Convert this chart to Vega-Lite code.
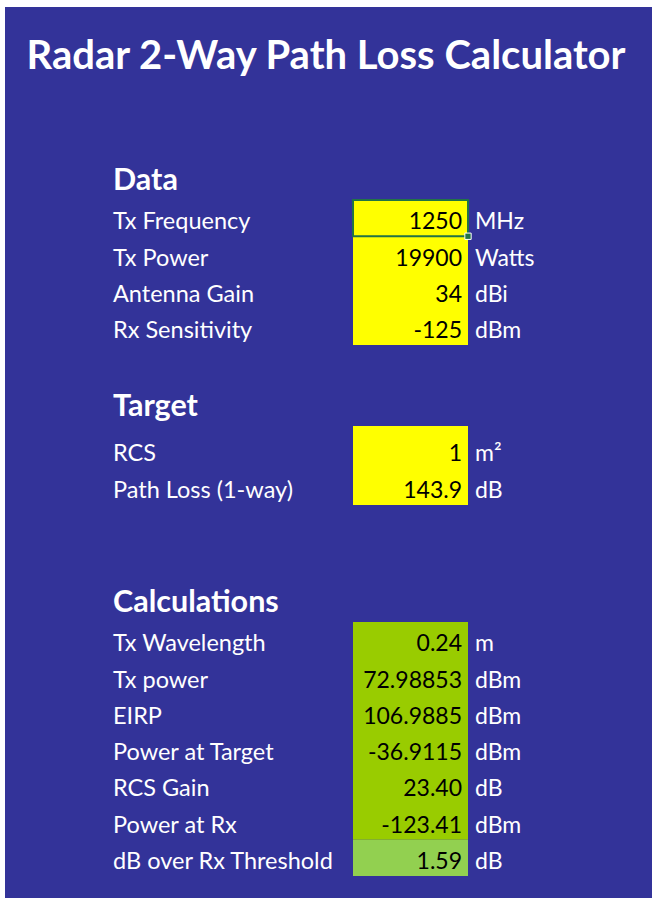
{
  "$schema": "https://vega.github.io/schema/vega-lite/v6.json",
  "width": 652,
  "height": 898,
  "autosize": "none",
  "padding": 0,
  "background": "white",
  "config": {"view": {"stroke": null}, "font": "Lato"},
  "title": {
    "text": "Radar 2-Way Path Loss Calculator",
    "anchor": "middle",
    "frame": "group",
    "orient": "top",
    "offset": -109,
    "baseline": "alphabetic",
    "font": "Lato",
    "fontSize": 40,
    "fontWeight": "bold",
    "color": "white"
  },
  "datasets": {
    "sheet": [{"top": 0, "bottom": 22}],
    "fills": [
      {"top": 3, "bottom": 7, "kind": "input"},
      {"top": 9, "bottom": 11, "kind": "input"},
      {"top": 14, "bottom": 20, "kind": "calc"},
      {"top": 20, "bottom": 21, "kind": "result"}
    ],
    "selected": [{"top": 3, "bottom": 4}],
    "headers": [
      {"row": 3, "text": "Data"},
      {"row": 9, "text": "Target"},
      {"row": 14, "text": "Calculations"}
    ],
    "items": [
      {"row": 4, "label": "Tx Frequency", "value": "1250", "unit": "MHz"},
      {"row": 5, "label": "Tx Power", "value": "19900", "unit": "Watts"},
      {"row": 6, "label": "Antenna Gain", "value": "34", "unit": "dBi"},
      {"row": 7, "label": "Rx Sensitivity", "value": "-125", "unit": "dBm"},
      {"row": 10, "label": "RCS", "value": "1", "unit": "m²"},
      {"row": 11, "label": "Path Loss (1-way)", "value": "143.9", "unit": "dB"},
      {"row": 15, "label": "Tx Wavelength", "value": "0.24", "unit": "m"},
      {"row": 16, "label": "Tx power", "value": "72.98853", "unit": "dBm"},
      {"row": 17, "label": "EIRP", "value": "106.9885", "unit": "dBm"},
      {"row": 18, "label": "Power at Target", "value": "-36.9115", "unit": "dBm"},
      {"row": 19, "label": "RCS Gain", "value": "23.40", "unit": "dB"},
      {"row": 20, "label": "Power at Rx", "value": "-123.41", "unit": "dBm"},
      {"row": 21, "label": "dB over Rx Threshold", "value": "1.59", "unit": "dB"}
    ]
  },
  "layer": [
    {
      "data": {"name": "sheet"},
      "mark": {"type": "rect", "color": "#333399"},
      "encoding": {
        "x": {"datum": 0, "type": "quantitative", "axis": null,
              "scale": {"domain": [0, 1, 2, 3, 4, 5], "range": [5, 106, 353, 468, 560, 652], "nice": false, "zero": false}},
        "x2": {"datum": 5},
        "y": {"field": "top", "type": "quantitative", "axis": null,
              "scale": {"domain": [0, 1, 2, 3, 4, 5, 6, 7, 8, 9, 10, 11, 12, 13, 14, 15, 16, 17, 18, 19, 20, 21, 22],
                        "range": [7, 100, 156, 200, 236.25, 272.5, 308.75, 345, 381, 426, 468, 505, 541, 577, 622, 658.3, 694.6, 730.9, 767.1, 803.4, 839.7, 876, 898],
                        "nice": false, "zero": false}},
        "y2": {"field": "bottom"}
      }
    },
    {
      "data": {"name": "fills"},
      "mark": {"type": "rect"},
      "encoding": {
        "x": {"datum": 2, "type": "quantitative"},
        "x2": {"datum": 3},
        "y": {"field": "top", "type": "quantitative"},
        "y2": {"field": "bottom"},
        "color": {"field": "kind", "type": "nominal", "legend": null,
                  "scale": {"domain": ["input", "calc", "result"], "range": ["#FFFF00", "#99CC00", "#92D050"]}}
      }
    },
    {
      "data": {"name": "selected"},
      "mark": {"type": "rect", "fill": null, "fillOpacity": 0, "stroke": "#217346", "strokeWidth": 2},
      "encoding": {
        "x": {"datum": 2, "type": "quantitative"},
        "x2": {"datum": 3},
        "y": {"field": "top", "type": "quantitative"},
        "y2": {"field": "bottom"}
      }
    },
    {
      "data": {"name": "selected"},
      "mark": {"type": "point", "shape": "square", "size": 40, "filled": true, "color": "#217346", "stroke": "white", "strokeWidth": 1, "opacity": 1},
      "encoding": {
        "x": {"datum": 3, "type": "quantitative"},
        "y": {"field": "bottom", "type": "quantitative"}
      }
    },
    {
      "data": {"name": "headers"},
      "mark": {"type": "text", "align": "left", "baseline": "alphabetic", "dx": 7, "dy": -10, "font": "Lato", "fontSize": 30.5, "fontWeight": "bold", "color": "white"},
      "encoding": {
        "x": {"datum": 1, "type": "quantitative"},
        "y": {"field": "row", "type": "quantitative"},
        "text": {"field": "text"}
      }
    },
    {
      "data": {"name": "items"},
      "mark": {"type": "text", "align": "left", "baseline": "alphabetic", "dx": 7, "dy": -7, "font": "Lato", "fontSize": 23.5, "color": "white"},
      "encoding": {
        "x": {"datum": 1, "type": "quantitative"},
        "y": {"field": "row", "type": "quantitative"},
        "text": {"field": "label"}
      }
    },
    {
      "data": {"name": "items"},
      "mark": {"type": "text", "align": "right", "baseline": "alphabetic", "dx": -6, "dy": -7, "font": "Lato", "fontSize": 23, "color": "black"},
      "encoding": {
        "x": {"datum": 3, "type": "quantitative"},
        "y": {"field": "row", "type": "quantitative"},
        "text": {"field": "value"}
      }
    },
    {
      "data": {"name": "items"},
      "mark": {"type": "text", "align": "left", "baseline": "alphabetic", "dx": 7, "dy": -7, "font": "Lato", "fontSize": 23, "color": "white"},
      "encoding": {
        "x": {"datum": 3, "type": "quantitative"},
        "y": {"field": "row", "type": "quantitative"},
        "text": {"field": "unit"}
      }
    }
  ]
}
